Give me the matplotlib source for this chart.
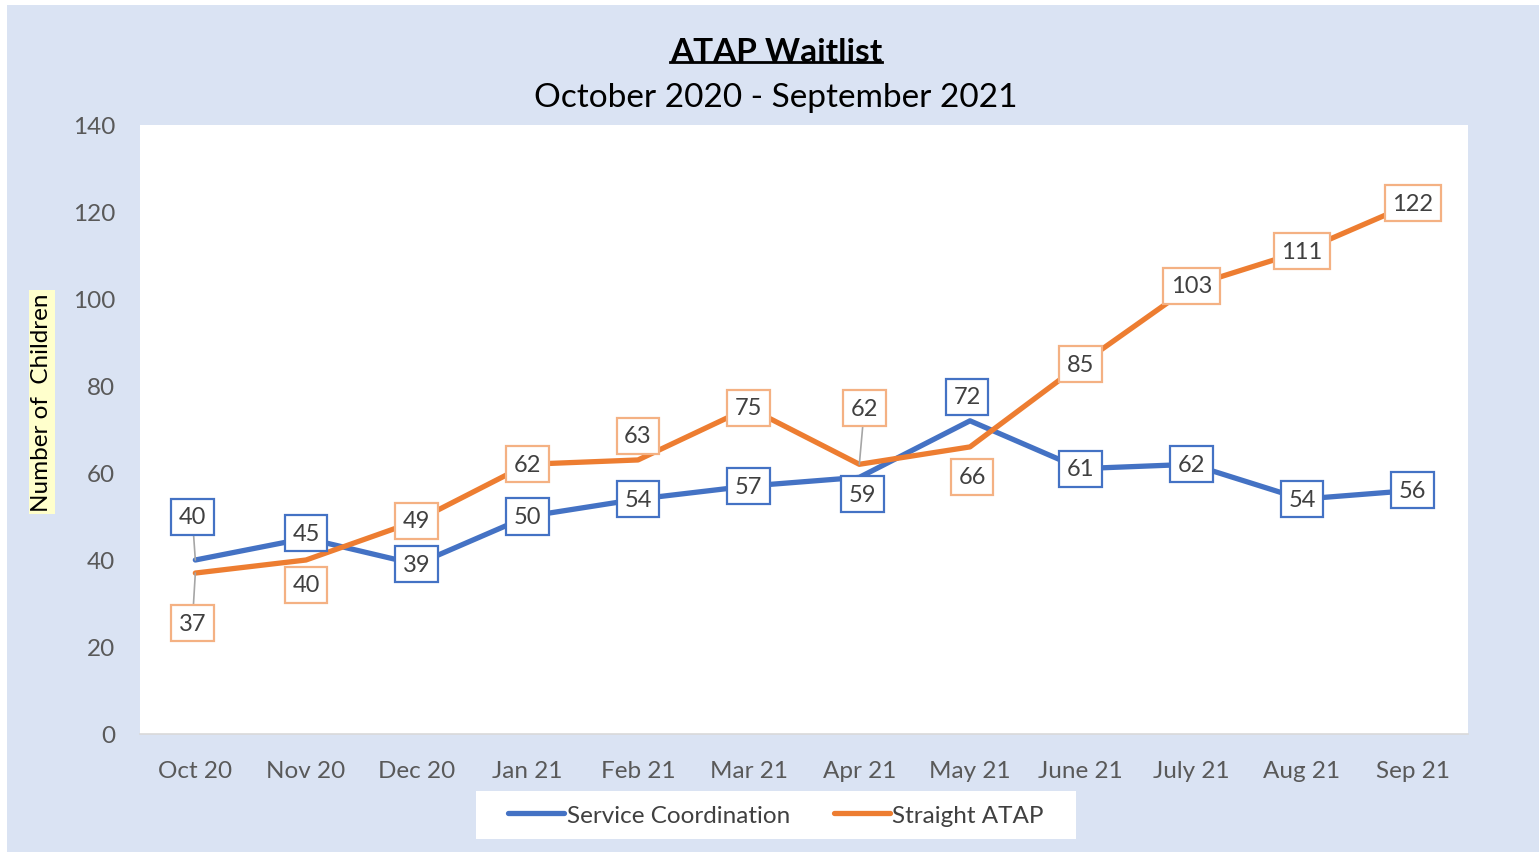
import matplotlib.pyplot as plt
from matplotlib.patches import Rectangle
from matplotlib.lines import Line2D

# chart data
months = ['Oct 20', 'Nov 20', 'Dec 20', 'Jan 21', 'Feb 21', 'Mar 21',
          'Apr 21', 'May 21', 'June 21', 'July 21', 'Aug 21', 'Sep 21']
service_coord = [40, 45, 39, 50, 54, 57, 59, 72, 61, 62, 54, 56]
straight_atap = [37, 40, 49, 62, 63, 75, 62, 66, 85, 103, 111, 122]

# label offsets in pixels (dx, dy up), and which ones get a leader line
sc_offsets = [(-3, 43), (0, 5), (0, 0), (0, 0), (0, 0), (0, 0),
              (3, -17), (-3, 24), (0, 0), (0, 0), (0, 0), (0, 0)]
sa_offsets = [(-3, -50), (0, -25), (0, 0), (0, 0), (0, 24), (0, 0),
              (5, 56), (2, -30), (0, 0), (0, 0), (0, 0), (0, 0)]
sc_leader = [0]
sa_leader = [0, 6]

blue = '#4472c4'
orange = '#ed7d31'
orange_light = '#f4b183'

plt.rcParams['font.family'] = ['Lato', 'DejaVu Sans']

fig = plt.figure(figsize=(15.39, 8.54), dpi=100)
fig.patch.set_facecolor('white')
fig.patches.append(Rectangle((7 / 1539, 1 / 854), 1 - 7 / 1539, 847 / 854,
                             transform=fig.transFigure, facecolor='#dae3f3',
                             edgecolor='none', zorder=-10))
# white legend panel
fig.patches.append(Rectangle((476 / 1539, 1 - 840 / 854), 600 / 1539, 48 / 854,
                             transform=fig.transFigure, facecolor='white',
                             edgecolor='none', zorder=-5))

ax = fig.add_axes([140 / 1539, 119 / 854, 1328 / 1539, 609 / 854])
ax.set_facecolor('white')

x = list(range(len(months)))
ax.plot(x, service_coord, color=blue, lw=3.8, label='Service Coordination',
        solid_capstyle='round', zorder=3)
ax.plot(x, straight_atap, color=orange, lw=3.8, label='Straight ATAP',
        solid_capstyle='round', zorder=3)

ax.set_xlim(-0.5, len(months) - 0.5)
ax.set_ylim(0, 140)
ax.set_yticks(range(0, 141, 20))
ax.set_xticks(x)
ax.set_xticklabels(months)
ax.tick_params(axis='both', length=0, labelsize=17.5, colors='#595959')
ax.tick_params(axis='y', pad=18)
ax.tick_params(axis='x', pad=19)
for side in ['top', 'right', 'left']:
    ax.spines[side].set_visible(False)
ax.spines['bottom'].set_color('#d9d9d9')
ax.spines['bottom'].set_linewidth(1.2)


def add_labels(values, offsets, leaders, edge):
    for i, v in enumerate(values):
        dx, dy = offsets[i]
        arrow = None
        if i in leaders:
            arrow = dict(arrowstyle='-', color='#a6a6a6', lw=1.2,
                         shrinkA=0, shrinkB=0)
        ax.annotate(str(v), xy=(i, v), xytext=(dx, dy),
                    textcoords='offset pixels', ha='center', va='center',
                    fontsize=17, color='#404040', zorder=5,
                    bbox=dict(boxstyle='square,pad=0.32', fc='white',
                              ec=edge, lw=1.6),
                    arrowprops=arrow)


add_labels(service_coord, sc_offsets, sc_leader, blue)
add_labels(straight_atap, sa_offsets, sa_leader, orange_light)

# titles
title = fig.text(776 / 1539, 1 - 52 / 854, 'ATAP Waitlist', ha='center',
                 va='center', fontsize=24, fontweight='bold', color='black')
fig.text(776 / 1539, 1 - 98 / 854, 'October 2020 - September 2021',
         ha='center', va='center', fontsize=24, color='black')

fig.canvas.draw()
bb = title.get_window_extent().transformed(fig.transFigure.inverted())
fig.lines.append(Line2D([bb.x0, bb.x1], [bb.y0 + 0.004, bb.y0 + 0.004],
                        transform=fig.transFigure, color='black', lw=2))

fig.text(42 / 1539, 1 - 403 / 854, 'Number of  Children', rotation=90,
         ha='center', va='center', fontsize=17.5, color='black',
         bbox=dict(boxstyle='square,pad=0.1', fc='#ffffcc', ec='none'))

leg = fig.legend(loc='center', bbox_to_anchor=(776 / 1539, 1 - 816 / 854),
                 ncol=2, fontsize=17.5, frameon=False,
                 handlelength=2.3, handletextpad=0.1, columnspacing=1.8,
                 borderaxespad=0)
for t in leg.get_texts():
    t.set_color('#404040')
for h in leg.get_lines():
    h.set_linewidth(3.8)

fig.savefig('out.png', dpi=100)
